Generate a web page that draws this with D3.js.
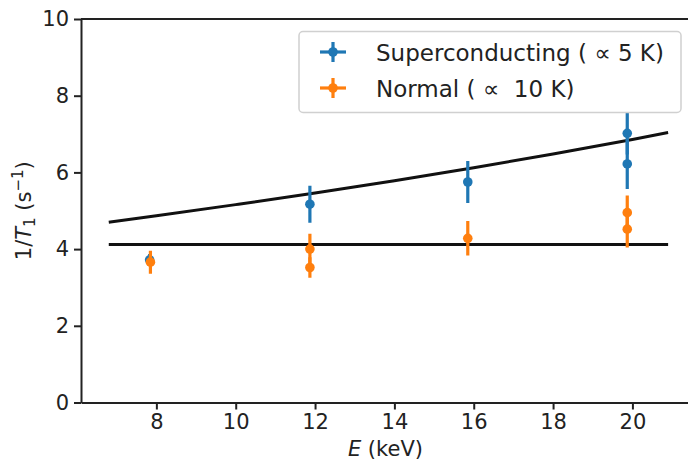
<!DOCTYPE html>
<html>
<head>
<meta charset="utf-8">
<script src="https://cdn.jsdelivr.net/npm/d3@7"></script>
<style>
  body { margin: 0; background: #fff; }
  text { font-family: "DejaVu Sans", sans-serif; fill: #222; }
</style>
</head>
<body>
<svg id="chart" width="688" height="460"></svg>
<script>
// ---- data ----
const xTicks = [8, 10, 12, 14, 16, 18, 20];
const yTicks = [0, 2, 4, 6, 8, 10];

const superE = [7.83, 11.87, 15.85, 19.87, 19.87];
const superY = [3.72, 5.17, 5.75, 7.02, 6.22];
const superErr = [0.15, 0.48, 0.55, 0.55, 0.65];

const normalE = [7.85, 11.87, 11.87, 15.85, 19.87, 19.87];
const normalY = [3.66, 4.00, 3.52, 4.28, 4.95, 4.52];
const normalErr = [0.3, 0.4, 0.27, 0.45, 0.45, 0.48];

const curveE = [6.8, 8, 10, 12, 14, 16, 18, 20, 20.9];
const curveY = [4.70, 4.87, 5.16, 5.46, 5.78, 6.12, 6.48, 6.86, 7.04];

const flatE = [6.8, 20.9];
const flatY = [4.12, 4.12];

const seriesNames = ["Superconducting ( \u221D 5 K)", "Normal ( \u221D  10 K)"];
const colors = ["#1f77b4", "#ff7f0e"];

// ---- layout ----
const svg = d3.select("#chart");
const pLeft = 81, pTop = 19, pBottom = 402.5;
const x = d3.scaleLinear().domain([6.1, 21.6]).range([pLeft, pLeft + (21.6 - 6.1) * 39.67]);
const y = d3.scaleLinear().domain([0, 10]).range([pBottom, pTop]);
const pRight = x.range()[1];

svg.append("defs").append("clipPath").attr("id", "clip")
  .append("rect").attr("x", pLeft).attr("y", pTop).attr("width", pRight - pLeft).attr("height", pBottom - pTop);

const plot = svg.append("g").attr("clip-path", "url(#clip)");

// fit lines
const line = d3.line().x(d => x(d[0])).y(d => y(d[1])).curve(d3.curveMonotoneX);
plot.append("path").datum(d3.zip(curveE, curveY)).attr("d", line)
  .attr("fill", "none").attr("stroke", "#111").attr("stroke-width", 3);
plot.append("path").datum(d3.zip(flatE, flatY)).attr("d", line)
  .attr("fill", "none").attr("stroke", "#111").attr("stroke-width", 3);

// error bars
function drawSeries(E, Y, Err, color) {
  const g = plot.append("g");
  const data = E.map((e, i) => ({ e, v: Y[i], err: Err[i] }));
  g.selectAll("line").data(data).join("line")
    .attr("x1", d => x(d.e)).attr("x2", d => x(d.e))
    .attr("y1", d => y(d.v - d.err)).attr("y2", d => y(d.v + d.err))
    .attr("stroke", color).attr("stroke-width", 3.2);
  g.selectAll("circle").data(data).join("circle")
    .attr("cx", d => x(d.e)).attr("cy", d => y(d.v)).attr("r", 4.8)
    .attr("fill", color);
}
drawSeries(superE, superY, superErr, colors[0]);
drawSeries(normalE, normalY, normalErr, colors[1]);

// axes
const fs = 21;
const xAxis = svg.append("g").attr("transform", `translate(0,${pBottom})`)
  .call(d3.axisBottom(x).tickValues(xTicks).tickSize(7).tickPadding(5).tickSizeOuter(0));
const yAxis = svg.append("g").attr("transform", `translate(${pLeft},0)`)
  .call(d3.axisLeft(y).tickValues(yTicks).tickSize(7).tickPadding(5).tickSizeOuter(0));
[xAxis, yAxis].forEach(a => {
  a.select(".domain").attr("stroke", "#222").attr("stroke-width", 2);
  a.selectAll(".tick line").attr("stroke", "#222").attr("stroke-width", 2);
  a.selectAll(".tick text").attr("font-size", fs).attr("font-family", "DejaVu Sans").attr("fill", "#222");
});
// top spine
svg.append("line").attr("x1", pLeft).attr("x2", pRight).attr("y1", pTop).attr("y2", pTop)
  .attr("stroke", "#222").attr("stroke-width", 2);

// axis labels
const xl = svg.append("text").attr("x", (pLeft + pRight) / 2 - 3).attr("y", 456)
  .attr("text-anchor", "middle").attr("font-size", fs);
xl.append("tspan").attr("font-style", "italic").text("E");
xl.append("tspan").text(" (keV)");

const yl = svg.append("text")
  .attr("transform", `translate(31,${(pTop + pBottom) / 2}) rotate(-90)`)
  .attr("text-anchor", "middle").attr("font-size", fs);
yl.append("tspan").text("1/");
yl.append("tspan").attr("font-style", "italic").text("T");
yl.append("tspan").attr("font-size", 15).attr("dy", 4).text("1");
yl.append("tspan").attr("dy", -4).text(" (s");
yl.append("tspan").attr("font-size", 15).attr("dy", -8).text("\u22121");
yl.append("tspan").attr("dy", 8).text(")");

// legend
const lg = svg.append("g");
lg.append("rect").attr("x", 299).attr("y", 31.5).attr("width", 382).attr("height", 81)
  .attr("rx", 4).attr("fill", "rgba(255,255,255,0.8)").attr("stroke", "#d0d0d0").attr("stroke-width", 1.5);
const rowsY = [52, 88];
seriesNames.forEach((name, i) => {
  const cy = rowsY[i];
  lg.append("line").attr("x1", 320).attr("x2", 346).attr("y1", cy).attr("y2", cy)
    .attr("stroke", colors[i]).attr("stroke-width", 3.2);
  lg.append("line").attr("x1", 333).attr("x2", 333).attr("y1", cy - 10).attr("y2", cy + 10)
    .attr("stroke", colors[i]).attr("stroke-width", 3.2);
  lg.append("circle").attr("cx", 333).attr("cy", cy).attr("r", 4.8).attr("fill", colors[i]);
  lg.append("text").attr("x", 376).attr("y", cy + 8.5).attr("font-size", 23)
    .style("white-space", "pre").text(name);
});
</script>
</body>
</html>
